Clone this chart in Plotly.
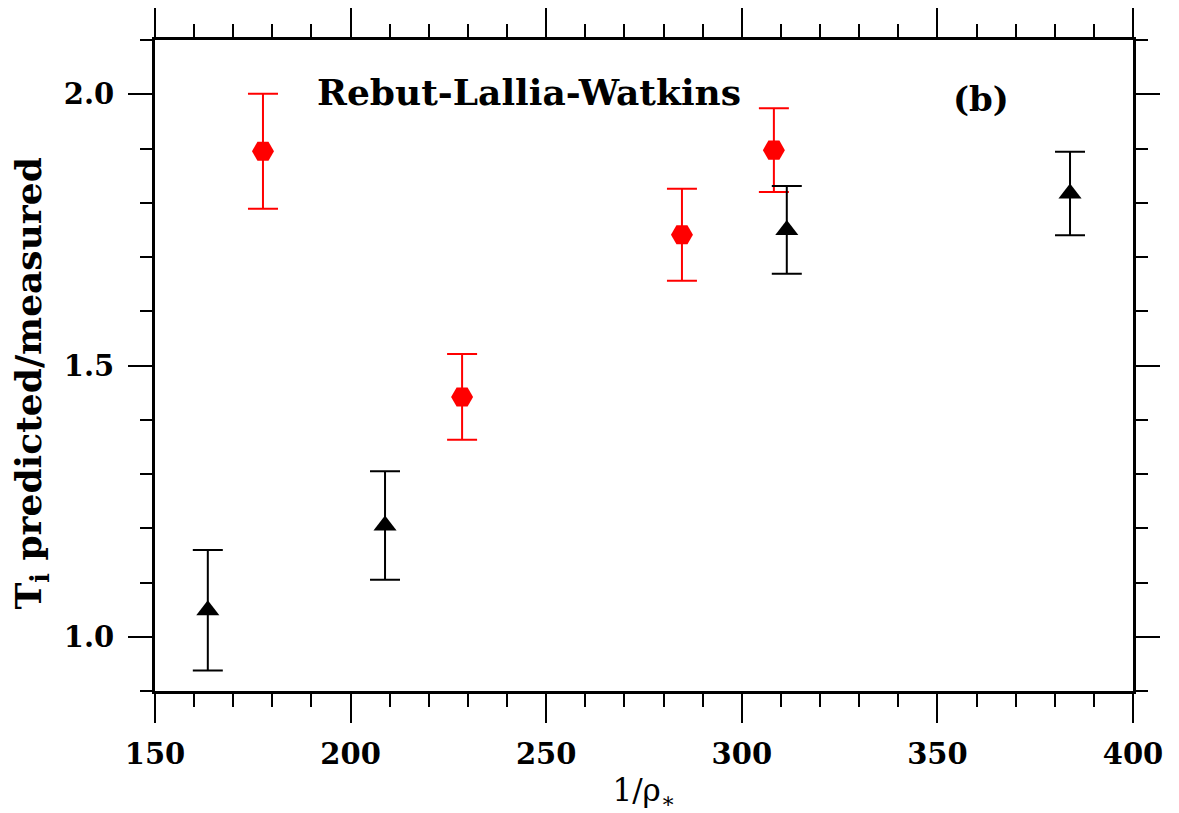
import plotly.graph_objects as go

# Data
red_x = [177.6, 228.5, 284.7, 308.2]
red_y = [1.895, 1.442, 1.741, 1.897]
red_err = [0.106, 0.079, 0.085, 0.077]

black_x = [163.5, 208.8, 311.5, 383.9]
black_y = [1.049, 1.205, 1.750, 1.817]
black_err = [0.111, 0.100, 0.081, 0.077]

x_range = [150, 400]
y_range = [0.9, 2.1]

FONT = "DejaVu Serif"

fig = go.Figure()

fig.add_trace(go.Scatter(
    x=red_x, y=red_y, mode="markers",
    marker=dict(symbol="hexagon2", size=22, color="#ff0000", line=dict(width=0)),
    error_y=dict(type="data", array=red_err, visible=True, color="#ff0000",
                 thickness=2, width=15),
    showlegend=False,
))

fig.add_trace(go.Scatter(
    x=black_x, y=black_y, mode="markers",
    marker=dict(symbol="triangle-up", size=20, color="black", line=dict(width=0)),
    error_y=dict(type="data", array=black_err, visible=True, color="black",
                 thickness=2, width=15),
    showlegend=False,
))

axis_common = dict(
    showgrid=False, zeroline=False, showline=True, linecolor="black", linewidth=3,
    ticks="outside", tickcolor="black", tickwidth=2, mirror="ticks", automargin=False,
    tickfont=dict(family=FONT, size=29, color="black", weight="bold"),
)

fig.update_xaxes(
    range=x_range, tick0=150, dtick=50, ticklen=29, ticklabelstandoff=6,
    minor=dict(dtick=10, ticklen=13, tickwidth=2, tickcolor="black", ticks="outside"),
    title=dict(text="1/ρ<sub>∗</sub>", font=dict(family=FONT, size=31, color="black"),
               standoff=10),
    **axis_common,
)
fig.update_yaxes(
    range=y_range, tick0=1.0, dtick=0.5, ticklen=24, tickformat=".1f", ticklabelstandoff=8,
    minor=dict(dtick=0.1, tick0=0.9, ticklen=12, tickwidth=2, tickcolor="black", ticks="outside"),
    **axis_common,
)

# y-axis title as an annotation (placed slightly below the plot centre, as in the original)
fig.add_annotation(x=-0.127, y=0.472, xref="paper", yref="paper",
                   xanchor="center", yanchor="middle", textangle=-90,
                   text="<b>T<sub>i</sub> predicted/measured</b>", showarrow=False,
                   font=dict(family=FONT, size=36, color="black"))

fig.add_annotation(x=0.382, y=0.920, xref="paper", yref="paper",
                   xanchor="center", yanchor="middle",
                   text="<b>Rebut-Lallia-Watkins</b>", showarrow=False,
                   font=dict(family=FONT, size=36, color="black"))
fig.add_annotation(x=0.845, y=0.909, xref="paper", yref="paper",
                   xanchor="center", yanchor="middle",
                   text="<b>(b)</b>", showarrow=False,
                   font=dict(family=FONT, size=34, color="black"))

fig.update_layout(
    width=1179, height=813,
    margin=dict(l=147, r=54, t=32, b=130),
    plot_bgcolor="white", paper_bgcolor="white",
)

fig.write_html("out.html")
